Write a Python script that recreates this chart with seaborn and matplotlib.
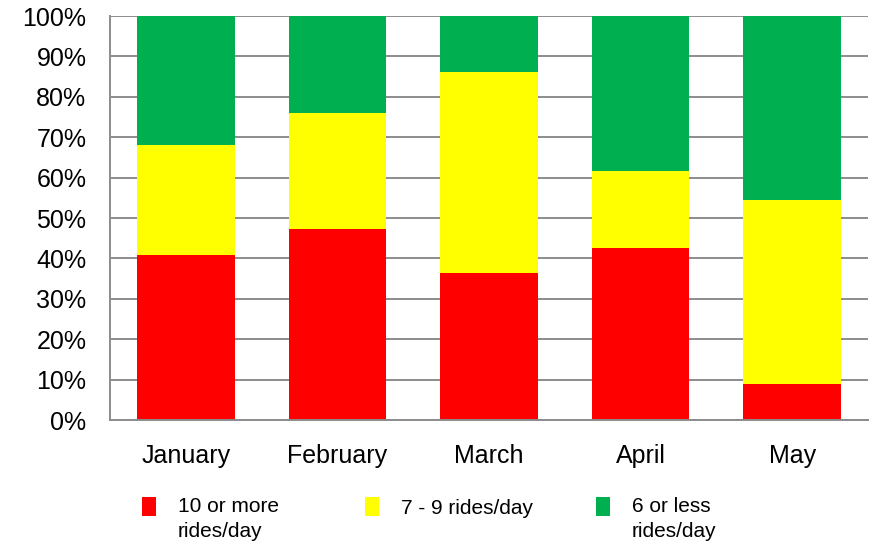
import matplotlib
matplotlib.use("Agg")
import matplotlib.pyplot as plt
import seaborn as sns
import numpy as np
import pandas as pd
from matplotlib.patches import Patch, Rectangle
from matplotlib.legend_handler import HandlerPatch

months = ["January", "February", "March", "April", "May"]
red_vals = [40.8, 47.4, 36.3, 42.6, 9.0]      # 10 or more rides/day
yellow_vals = [27.3, 28.6, 49.9, 19.1, 45.5]  # 7 - 9 rides/day
green_vals = [31.9, 24.0, 13.8, 38.3, 45.5]   # 6 or less rides/day
series_labels = ["10 or more\nrides/day", "7 - 9 rides/day", "6 or less\nrides/day"]
colors = ["#FF0000", "#FFFF00", "#00B050"]
yticks = list(range(0, 101, 10))

sns.set_theme(style="white")
plt.rcParams["font.family"] = ["Liberation Sans", "DejaVu Sans"]
plt.rcParams["text.color"] = "black"

fig = plt.figure(figsize=(8.72, 5.44), dpi=100)
ax = fig.add_axes([110 / 872, 1 - 420 / 544, (868 - 110) / 872, (420 - 16) / 544])

red = np.array(red_vals)
yellow = np.array(yellow_vals)
green = np.array(green_vals)
df = pd.DataFrame({
    "month": months,
    "top": red + yellow + green,
    "mid": red + yellow,
    "low": red,
})

for col, c in zip(["top", "mid", "low"], colors[::-1]):
    sns.barplot(data=df, x="month", y=col, order=months, color=c,
                width=0.644, ax=ax, saturation=1, linewidth=0, edgecolor="none")

ax.set_ylim(0, 100)
ax.set_xlim(-0.5, 4.5)
ax.set_yticks(yticks)
ax.set_yticklabels([f"{t}%" for t in yticks])
ax.set_xlabel("")
ax.set_ylabel("")
ax.set_axisbelow(True)
ax.yaxis.grid(True, color="#8c8c8c", linewidth=1.4)
ax.xaxis.grid(False)
for s in ["top", "right"]:
    ax.spines[s].set_visible(False)
for s in ["left", "bottom"]:
    ax.spines[s].set_visible(True)
    ax.spines[s].set_color("#8c8c8c")
    ax.spines[s].set_linewidth(1.4)
ax.tick_params(axis="y", length=0, pad=17, labelsize=18, labelcolor="black")
ax.tick_params(axis="x", length=0, pad=17, labelsize=18, labelcolor="black")

leg_fs = 15
linesp = 1.37


def make_handler(nlines):
    off = 9.0 * (nlines - 1)

    def patch_func(legend, orig_handle, xdescent, ydescent, width, height, fontsize):
        return Rectangle((-xdescent, -ydescent + off), width, height)

    return HandlerPatch(patch_func=patch_func)


xs = [142, 365, 596]
for lab, c, x in zip(series_labels, colors, xs):
    h = Patch(facecolor=c, edgecolor="none")
    leg = fig.legend(handles=[h], labels=[lab],
                     loc="upper left", bbox_to_anchor=(x / 872, 1 - 497 / 544),
                     frameon=False, borderpad=0, borderaxespad=0,
                     handlelength=0.67, handleheight=1.05, handletextpad=1.05,
                     fontsize=leg_fs, labelcolor="black",
                     handler_map={h: make_handler(lab.count("\n") + 1)})
    for t in leg.get_texts():
        t.set_linespacing(linesp)

fig.savefig("out.png", dpi=100)
